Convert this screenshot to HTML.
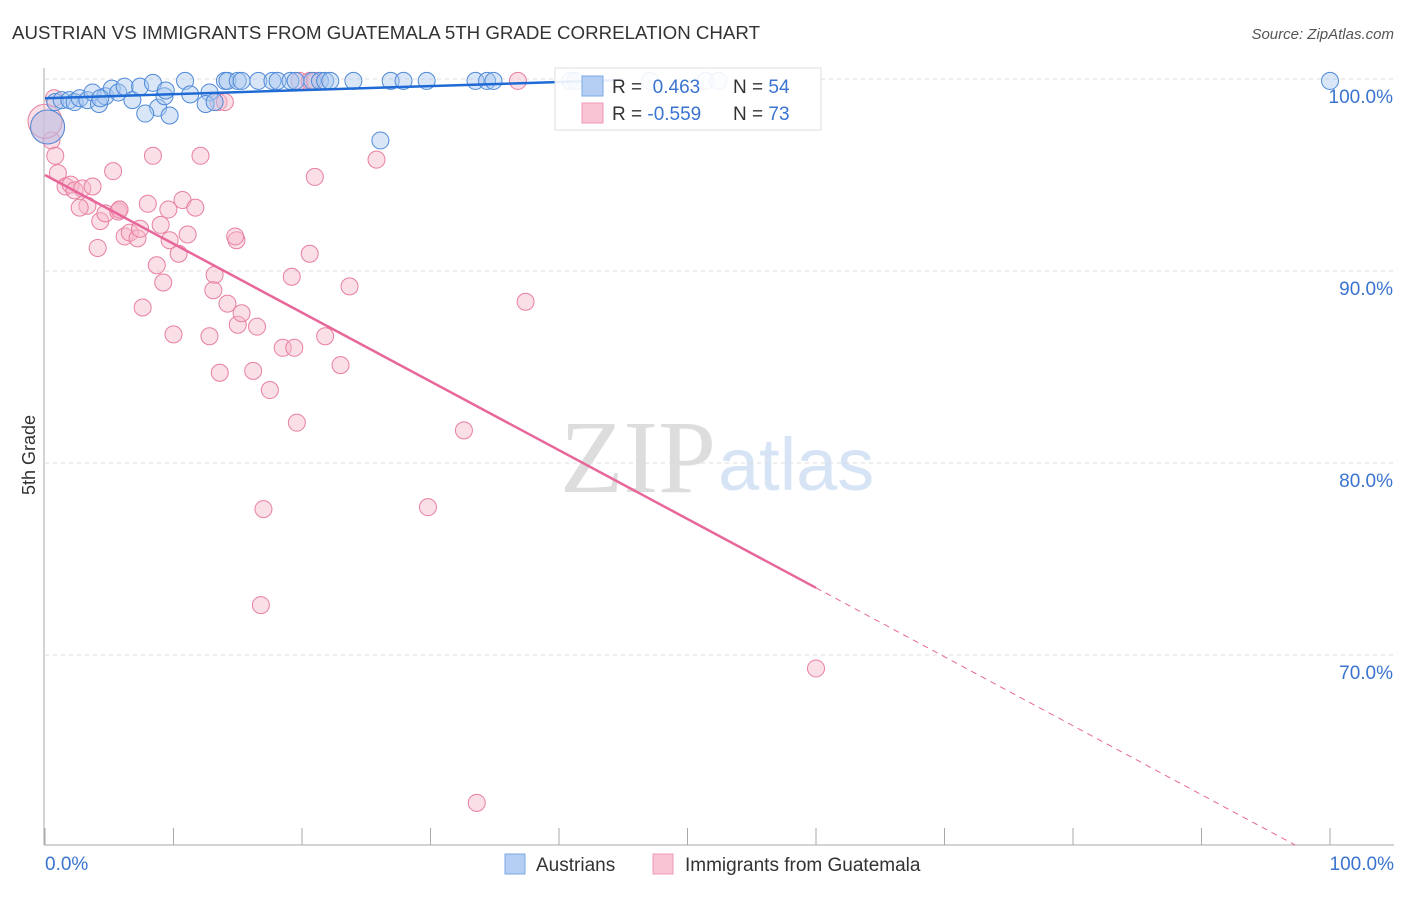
<!DOCTYPE html>
<html><head><meta charset="utf-8"><style>
body{margin:0;background:#fff;font-family:"Liberation Sans",sans-serif;}
svg text{font-family:"Liberation Sans",sans-serif;}
</style></head><body>
<svg width="1406" height="892">
<text x="12" y="39" font-size="18" fill="#333" textLength="748" lengthAdjust="spacingAndGlyphs">AUSTRIAN VS IMMIGRANTS FROM GUATEMALA 5TH GRADE CORRELATION CHART</text>
<text x="1394" y="39" font-size="15" fill="#555" font-style="italic" text-anchor="end">Source: ZipAtlas.com</text>
<text x="35" y="455" font-size="18" fill="#333" transform="rotate(-90 35 455)" text-anchor="middle">5th Grade</text>
<text x="716" y="492" font-size="104" fill="#ddd" text-anchor="end" style="font-family:'Liberation Serif',serif">ZIP</text>
<text x="718" y="490" font-size="74" fill="#d6e4f5">atlas</text>
<g id="grid"></g><g id="axes"></g><g id="pts"></g><g id="lines"></g>
<g>
<rect x="555" y="68" width="266" height="62" fill="#fff" fill-opacity="0.9" stroke="#ddd"/>
<rect x="582" y="76" width="21" height="20" fill="#b4cff3" stroke="#7aa8e6"/>
<rect x="582" y="103" width="21" height="20" fill="#f9c4d3" stroke="#ef9ab4"/>
<text x="612" y="93" font-size="19" fill="#333">R = <tspan fill="#3a74d0">&#160;0.463</tspan></text>
<text x="733" y="93" font-size="19" fill="#333">N = <tspan fill="#3a74d0">54</tspan></text>
<text x="612" y="120" font-size="19" fill="#333">R = <tspan fill="#3a74d0">-0.559</tspan></text>
<text x="733" y="120" font-size="19" fill="#333">N = <tspan fill="#3a74d0">73</tspan></text>
</g>
<g>
<rect x="505" y="854" width="20" height="20" fill="#b4cff3" stroke="#7aa8e6"/>
<text x="536" y="871" font-size="19" fill="#333">Austrians</text>
<rect x="653" y="854" width="20" height="20" fill="#f9c4d3" stroke="#ef9ab4"/>
<text x="685" y="871" font-size="19" fill="#333">Immigrants from Guatemala</text>
</g>
</svg>
<script>
const yTicks=[100,90,80,70];
const yTickLabels=["100.0%","90.0%","80.0%","70.0%"];
const xEndLabels=["0.0%","100.0%"];
const blueX=[0.8,1.3,1.9,2.3,2.7,3.3,3.7,4.2,4.7,5.2,5.7,6.2,6.8,7.4,8.4,8.8,7.8,9.7,9.3,10.9,11.3,12.8,12.5,13.2,14.0,14.2,15.0,15.3,16.6,17.7,18.1,19.1,19.5,20.8,21.4,21.8,22.2,24.0,26.9,27.9,29.7,33.5,34.4,34.9,40.9,41.3,47.1,51.4,52.4,100,26.1,0.2,9.4,4.3];
const blueY=[98.8,98.9,98.9,98.8,99.0,98.9,99.3,98.7,99.1,99.5,99.3,99.6,98.9,99.6,99.8,98.5,98.2,98.1,99.1,99.9,99.2,99.3,98.7,98.8,99.9,99.9,99.9,99.9,99.9,99.9,99.9,99.9,99.9,99.9,99.9,99.9,99.9,99.9,99.9,99.9,99.9,99.9,99.9,99.9,99.9,99.9,99.9,99.9,99.9,99.9,96.8,97.5,99.4,99.0];
const pinkX=[0.2,0.5,0.8,1.0,1.6,2.0,2.3,2.9,3.7,3.3,4.3,4.7,5.3,5.7,5.8,6.2,6.6,7.2,7.4,8.0,8.4,8.7,9.2,9.0,9.6,9.7,10.4,10.7,11.1,11.7,12.1,12.8,13.2,13.1,13.6,14.2,14.9,14.8,15.0,15.3,16.2,16.5,17.5,17.0,16.8,18.5,19.2,19.4,19.6,20.6,21.0,21.8,23.0,23.7,25.8,29.8,32.6,33.6,37.4,60.0,13.5,14.0,19.8,20.6,21.0,36.8,5.8,4.1,7.6,10.0,0.0,2.7,0.7];
const pinkY=[97.5,96.8,96.0,95.1,94.4,94.5,94.2,94.3,94.4,93.4,92.6,93.0,95.2,93.1,93.2,91.8,92.0,91.7,92.2,93.5,96.0,90.3,89.4,92.4,93.2,91.6,90.9,93.7,91.9,93.3,96.0,86.6,89.8,89.0,84.7,88.3,91.6,91.8,87.2,87.8,84.8,87.1,83.8,77.6,72.6,86.0,89.7,86.0,82.1,90.9,94.9,86.6,85.1,89.2,95.8,77.7,81.7,62.3,88.4,69.3,98.8,98.8,99.9,99.9,99.9,99.9,93.2,91.2,88.1,86.7,97.8,93.3,99.0];
const blueTrend=[[0,99.0],[45,99.95]];
const pinkTrend=[[0,95.0],[60,73.5]];
const pinkDash=[[60,73.5],[97.3,60.1]];
const NS="http://www.w3.org/2000/svg";
const X=v=>45+v*12.85, Y=v=>79+(100-v)*19.2;
function mk(tag,a,parent){const e=document.createElementNS(NS,tag);for(const k in a)e.setAttribute(k,a[k]);document.getElementById(parent).appendChild(e);return e;}
yTicks.forEach((t,i)=>{
 const l=mk('line',{x1:45,x2:1394,y1:Y(t),y2:Y(t),stroke:'#ddd','stroke-dasharray':'4,4'},'grid');
 
 
 const tx=mk('text',{x:1393,y:Y(t)+24,'font-size':19,fill:'#3a74d0','text-anchor':'end'},'grid');tx.textContent=yTickLabels[i];
 
 
});
let ax=mk('line',{x1:44,x2:44,y1:68,y2:845,stroke:'#aaa'},'axes');


ax=mk('line',{x1:44,x2:1394,y1:845,y2:845,stroke:'#aaa'},'axes');


for(let i=0;i<=10;i++){const t=mk('line',{x1:X(i*10),x2:X(i*10),y1:828,y2:845,stroke:'#aaa'},'axes');
 
 }
[[0,'start',45],[100,'end',1394]].forEach((d,i)=>{const t=mk('text',{x:d[2],y:870,'font-size':19,fill:'#3a74d0','text-anchor':d[1]},'axes');t.textContent=xEndLabels[i];
 
 });
function pts(xs,ys,fill,stroke,name){xs.forEach((x,i)=>{const big=(x<=0.2&&ys[i]>97);const c=mk('circle',{cx:X(x),cy:Y(ys[i]),r:big?17:8.5,fill:fill,'fill-opacity':0.45,stroke:stroke,'stroke-width':1},'pts');
 
 });}
pts(pinkX,pinkY,'#f7b7ca','#e87fa0','guatemala-point');
pts(blueX,blueY,'#a9c8f0','#4f8ad8','austrian-point');
let L=mk('line',{x1:X(blueTrend[0][0]),y1:Y(blueTrend[0][1]),x2:X(blueTrend[1][0]),y2:Y(blueTrend[1][1]),stroke:'#1f6ad4','stroke-width':2.5},'lines');


L=mk('line',{x1:X(pinkTrend[0][0]),y1:Y(pinkTrend[0][1]),x2:X(pinkTrend[1][0]),y2:Y(pinkTrend[1][1]),stroke:'#e8679a','stroke-width':2.5},'lines');


L=mk('line',{x1:X(pinkDash[0][0]),y1:Y(pinkDash[0][1]),x2:X(pinkDash[1][0]),y2:Y(pinkDash[1][1]),stroke:'#e8679a','stroke-width':1,'stroke-dasharray':'6,5'},'lines');


</script>
</body></html>
